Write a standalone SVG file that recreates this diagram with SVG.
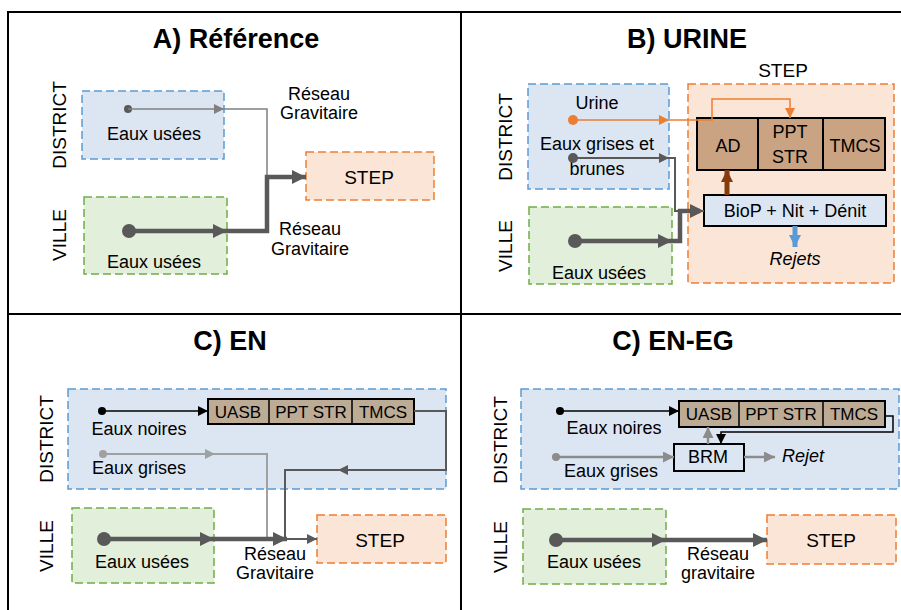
<svg xmlns="http://www.w3.org/2000/svg" width="901" height="610" viewBox="0 0 901 610">
<defs>
<style>
text{font-family:"Liberation Sans",Arial,sans-serif;fill:#000}
.t{font-size:27px;font-weight:bold;text-anchor:middle}
.l{font-size:18px;text-anchor:middle}
.s{font-size:17px;text-anchor:middle}
.r{font-size:19px;text-anchor:middle}
.i{font-style:italic}
.dist{fill:#dce6f2;stroke:#5b9bd5;stroke-width:1.5;stroke-dasharray:8 4}
.ville{fill:#e2efda;stroke:#70ad47;stroke-width:1.5;stroke-dasharray:8 4}
.step{fill:#fbe5d6;stroke:#ed7d31;stroke-width:1.5;stroke-dasharray:8 4}
.proc{fill:#c9a382;stroke:#000;stroke-width:2}
.proc2{fill:#bcab95;stroke:#000;stroke-width:2}
.blue{fill:#dce6f2;stroke:#000;stroke-width:2}
.c path{fill:none}
.thin{stroke:#808080;stroke-width:1.5}
.thick{stroke:#595959;stroke-width:4.5}
.dk{stroke:#595959;stroke-width:2}
.blk{stroke:#000;stroke-width:1.5}
.org{stroke:#ed7d31;stroke-width:1.5}
.lg{stroke:#a0a0a0;stroke-width:2}
.g2{stroke:#8c8c8c;stroke-width:2.5}
.brn{stroke:#843c0c;stroke-width:5}
.bl{stroke:#5b9bd5;stroke-width:5}
</style>
<marker id="aGray" viewBox="0 0 10 10" refX="10" refY="5" markerWidth="11" markerHeight="10" markerUnits="userSpaceOnUse" orient="auto"><path d="M0,0L10,5L0,10z" fill="#808080"/></marker>
<marker id="aThick" viewBox="0 0 10 10" refX="10" refY="5" markerWidth="17" markerHeight="14" markerUnits="userSpaceOnUse" orient="auto"><path d="M0,0L10,5L0,10z" fill="#595959"/></marker>
<marker id="aDk" viewBox="0 0 10 10" refX="10" refY="5" markerWidth="11" markerHeight="10" markerUnits="userSpaceOnUse" orient="auto"><path d="M0,0L10,5L0,10z" fill="#595959"/></marker>
<marker id="aBlk" viewBox="0 0 10 10" refX="10" refY="5" markerWidth="10" markerHeight="10" markerUnits="userSpaceOnUse" orient="auto"><path d="M0,0L10,5L0,10z" fill="#000"/></marker>
<marker id="aOrg" viewBox="0 0 10 10" refX="10" refY="5" markerWidth="11" markerHeight="10" markerUnits="userSpaceOnUse" orient="auto"><path d="M0,0L10,5L0,10z" fill="#ed7d31"/></marker>
<marker id="aLg" viewBox="0 0 10 10" refX="10" refY="5" markerWidth="11" markerHeight="10" markerUnits="userSpaceOnUse" orient="auto"><path d="M0,0L10,5L0,10z" fill="#a0a0a0"/></marker>
<marker id="aG2" viewBox="0 0 10 10" refX="10" refY="5" markerWidth="12" markerHeight="11" markerUnits="userSpaceOnUse" orient="auto"><path d="M0,0L10,5L0,10z" fill="#8c8c8c"/></marker>
<marker id="aBrn" viewBox="0 0 10 10" refX="10" refY="5" markerWidth="12" markerHeight="14" markerUnits="userSpaceOnUse" orient="auto"><path d="M0,0L10,5L0,10z" fill="#843c0c"/></marker>
<marker id="aBl" viewBox="0 0 10 10" refX="10" refY="5" markerWidth="12" markerHeight="14" markerUnits="userSpaceOnUse" orient="auto"><path d="M0,0L10,5L0,10z" fill="#5b9bd5"/></marker>
</defs>
<rect width="901" height="610" fill="#fff"/>
<g id="frame" fill="none" stroke="#000" stroke-width="2">
<path d="M8,610V12H901"/>
<path d="M461,12V610"/>
<path d="M8,314H901"/>
</g>

<!-- Panel A -->
<g id="A">
<text class="t" x="236" y="48">A) Référence</text>
<text class="r" transform="translate(65.5,125) rotate(-90)">DISTRICT</text>
<text class="r" transform="translate(65.5,235) rotate(-90)">VILLE</text>
<g id="A-district"><rect class="dist" x="82" y="91" width="142" height="68"/><text class="l" x="154" y="140">Eaux usées</text></g>
<g id="A-ville"><rect class="ville" x="84" y="197" width="143" height="77"/><text class="l" x="154" y="268">Eaux usées</text></g>
<g id="A-step"><rect class="step" x="306" y="152" width="128" height="48"/><text class="r" x="369" y="184">STEP</text></g>
<text class="l" x="319" y="100">Réseau</text><text class="l" x="319" y="119">Gravitaire</text>
<text class="l" x="310" y="235">Réseau</text><text class="l" x="310" y="255">Gravitaire</text>
</g>

<!-- Panel B -->
<g id="B">
<text class="t" x="687" y="48">B) URINE</text>
<text class="r" transform="translate(512,137) rotate(-90)">DISTRICT</text>
<text class="r" transform="translate(512,246) rotate(-90)">VILLE</text>
<g id="B-district"><rect class="dist" x="528" y="84" width="141" height="105"/>
<text class="l" x="597" y="109">Urine</text><text class="l" x="597" y="150">Eaux grises et</text><text class="l" x="597" y="175">brunes</text></g>
<g id="B-ville"><rect class="ville" x="529" y="207" width="143" height="77"/><text class="l" x="599" y="279">Eaux usées</text></g>
<g id="B-step"><rect class="step" x="688" y="84" width="206" height="199"/><text class="r" x="783" y="77">STEP</text></g>
<g id="B-AD"><rect class="proc" x="697" y="118" width="61" height="52"/><text class="l" x="728" y="152">AD</text></g>
<g id="B-PPT"><rect class="proc" x="758" y="118" width="65" height="52"/><text class="l" x="790" y="138">PPT</text><text class="l" x="790" y="163">STR</text></g>
<g id="B-TMCS"><rect class="proc" x="823" y="118" width="62" height="52"/><text class="l" x="855" y="152">TMCS</text></g>
<g id="B-BioP"><rect class="blue" x="704" y="195" width="182" height="31"/><text class="l" x="795" y="217">BioP + Nit + Dénit</text></g>
<text class="l i" x="795" y="265">Rejets</text>
</g>

<!-- Panel C -->
<g id="C">
<text class="t" x="230" y="350">C) EN</text>
<text class="r" transform="translate(53,439) rotate(-90)">DISTRICT</text>
<text class="r" transform="translate(53,546) rotate(-90)">VILLE</text>
<g id="C-district"><rect class="dist" x="68" y="389" width="378" height="100"/>
<text class="l" x="139" y="435">Eaux noires</text><text class="l" x="139" y="474">Eaux grises</text></g>
<g id="C-ville"><rect class="ville" x="72" y="508" width="142" height="75"/><text class="l" x="142" y="568">Eaux usées</text></g>
<g id="C-step"><rect class="step" x="317" y="515" width="129" height="48"/><text class="r" x="380" y="547">STEP</text></g>
<g id="C-proc"><rect class="proc2" x="208" y="399" width="206" height="25"/>
<path d="M269,399V424M352,399V424" stroke="#000" stroke-width="1.5"/>
<text class="s" x="238" y="418">UASB</text><text class="s" x="311" y="418">PPT STR</text><text class="s" x="383" y="418">TMCS</text></g>
<text class="l" x="275" y="560">Réseau</text><text class="l" x="275" y="579">Gravitaire</text>
</g>

<!-- Panel D -->
<g id="D">
<text class="t" x="673" y="350">C) EN-EG</text>
<text class="r" transform="translate(507,440) rotate(-90)">DISTRICT</text>
<text class="r" transform="translate(507,547) rotate(-90)">VILLE</text>
<g id="D-district"><rect class="dist" x="521" y="389" width="378" height="100"/>
<text class="l" x="614" y="434">Eaux noires</text><text class="l" x="611" y="477">Eaux grises</text></g>
<g id="D-ville"><rect class="ville" x="523" y="509" width="143" height="75"/><text class="l" x="594" y="568">Eaux usées</text></g>
<g id="D-step"><rect class="step" x="767" y="515" width="129" height="49"/><text class="r" x="831" y="547">STEP</text></g>
<g id="D-proc"><rect class="proc2" x="679" y="401" width="206" height="26"/>
<path d="M739,401V427M823,401V427" stroke="#000" stroke-width="1.5"/>
<text class="s" x="709" y="420">UASB</text><text class="s" x="781" y="420">PPT STR</text><text class="s" x="854" y="420">TMCS</text></g>
<g id="D-BRM"><rect class="blue" x="674" y="444" width="70" height="27"/><text class="l" x="708" y="463">BRM</text></g>
<text class="l i" x="782" y="462" style="text-anchor:start">Rejet</text>
<text class="l" x="718" y="560">Réseau</text><text class="l" x="718" y="579">gravitaire</text>
</g>

<g id="connectors" class="c">
<!-- A -->
<circle cx="128" cy="109" r="4" fill="#595959"/>
<path class="thin" d="M128,109H224" marker-end="url(#aGray)"/>
<path class="thin" d="M224,109H267V178"/>
<circle cx="129" cy="231" r="7" fill="#595959"/>
<path class="thick" d="M129,231H227" marker-end="url(#aThick)"/>
<path class="thick" d="M227,231H267V177H306" marker-end="url(#aThick)"/>
<!-- B -->
<circle cx="573" cy="120" r="5" fill="#ed7d31"/>
<path class="org" d="M573,120H669" marker-end="url(#aOrg)"/>
<path class="org" d="M669,120H712V99H790V118" marker-end="url(#aOrg)"/>
<circle cx="573" cy="158" r="5" fill="#595959"/>
<path class="dk" d="M573,158H669" marker-end="url(#aDk)"/>
<path class="dk" d="M669,158H675V211H704" marker-end="url(#aThick)"/>
<circle cx="575" cy="241" r="7" fill="#595959"/>
<path class="thick" d="M575,241H672" marker-end="url(#aThick)"/>
<path class="thick" d="M672,241H680V211H700"/>
<path class="brn" d="M727,195V170" marker-end="url(#aBrn)"/>
<path class="bl" d="M795,226V247" marker-end="url(#aBl)"/>
<!-- C -->
<circle cx="102" cy="411" r="4" fill="#000"/>
<path class="blk" d="M102,411H208" marker-end="url(#aBlk)"/>
<circle cx="103" cy="454" r="4" fill="#a0a0a0"/>
<path class="lg" d="M103,454H215" marker-end="url(#aLg)"/>
<path class="lg" d="M215,454H267V539"/>
<path class="dk" d="M414,411H446V470H338" marker-end="url(#aDk)"/>
<path class="dk" d="M345,470H285V539"/>
<circle cx="104" cy="539" r="7" fill="#595959"/>
<path class="thick" d="M104,539H214" marker-end="url(#aThick)"/>
<path class="thick" d="M214,539H287" marker-end="url(#aThick)"/>
<path class="dk" d="M287,539H317" marker-end="url(#aDk)"/>
<!-- D -->
<circle cx="560" cy="411" r="4" fill="#000"/>
<path class="blk" d="M560,411H679" marker-end="url(#aBlk)"/>
<circle cx="556" cy="457" r="4" fill="#8c8c8c"/>
<path class="g2" d="M556,457H674" marker-end="url(#aG2)"/>
<path class="g2" d="M744,457H775" marker-end="url(#aG2)"/>
<path class="g2" d="M708,444V427" marker-end="url(#aG2)"/>
<path class="blk" d="M885,416H893V432H721V444" marker-end="url(#aBlk)"/>
<circle cx="556" cy="540" r="7" fill="#595959"/>
<path class="thick" d="M556,540H666" marker-end="url(#aThick)"/>
<path class="thick" d="M666,540H767" marker-end="url(#aThick)"/>
</g>
</svg>
